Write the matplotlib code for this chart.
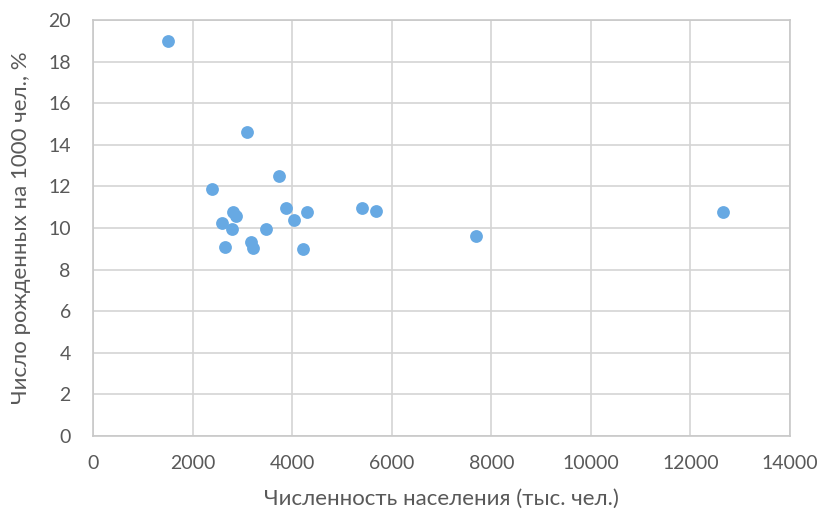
import matplotlib
matplotlib.use("Agg")
import matplotlib.pyplot as plt

population = [1500, 2400, 3100, 3740, 2820, 2870, 2600, 2800, 3480, 3880,
              4040, 4290, 2660, 3170, 3210, 4210, 5400, 5680, 7700, 12650]
birth_rate = [19.0, 11.9, 14.6, 12.5, 10.75, 10.6, 10.25, 9.95, 9.95, 10.95,
              10.4, 10.75, 9.1, 9.35, 9.05, 9.0, 10.95, 10.8, 9.6, 10.75]

x_ticks = list(range(0, 14001, 2000))
y_ticks = list(range(0, 21, 2))

plt.rcParams['font.family'] = ['Lato', 'DejaVu Sans']

fig = plt.figure(figsize=(8.2, 5.16), dpi=100)
ax = fig.add_axes([0.1134, 0.155, 0.85, 0.806])

ax.scatter(population, birth_rate, s=85, color='#67A9E3', zorder=3, linewidths=0)

ax.set_xlim(0, 14000)
ax.set_ylim(0, 20)
ax.set_xticks(x_ticks)
ax.set_yticks(y_ticks)
ax.grid(True, color='#D4D4D4', linewidth=1.2)
ax.set_axisbelow(True)
for s in ax.spines.values():
    s.set_color('#C8C8C8')
    s.set_linewidth(1.2)
ax.tick_params(length=0, labelsize=14, colors='#595959')
ax.tick_params(axis='y', pad=16)
ax.tick_params(axis='x', pad=14)

ax.set_xlabel('Численность населения (тыс. чел.)', fontsize=16, color='#595959', labelpad=12)
ax.set_ylabel('Число рожденных на 1000 чел., %', fontsize=16, color='#595959', labelpad=12)

fig.savefig('out.png', dpi=100)
